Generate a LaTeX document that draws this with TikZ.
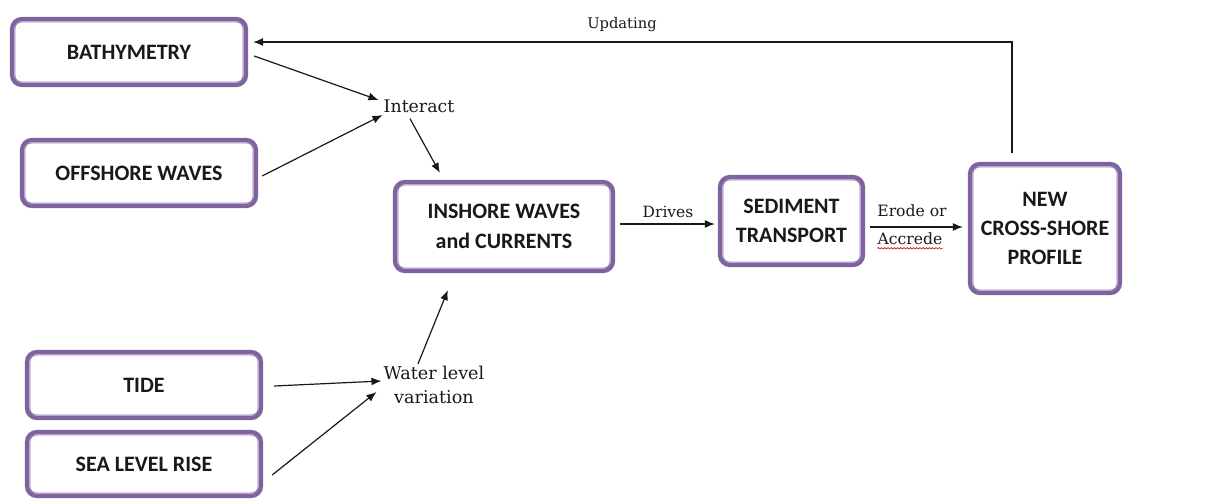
\documentclass[tikz,border=0pt]{standalone}
\usepackage{fontspec}
\setmainfont{DejaVu Serif}
\newfontfamily\boxfont{Carlito}
\usetikzlibrary{arrows.meta,calc,decorations.pathmorphing}
\definecolor{boxpurple}{HTML}{7F63A1}
\definecolor{boxinner}{HTML}{9A85B8}
\begin{document}
\begin{tikzpicture}[x=0.75pt,y=-0.75pt,
  box/.style={draw=boxpurple, line width=3.2pt, rounded corners=7.5pt, fill=white,
    align=center, inner sep=0pt, text=black!90,
    font=\boxfont\bfseries\fontsize{16.5}{22}\selectfont},
  innerline/.style={draw=boxinner, line width=0.8pt, rounded corners=5pt},
  arr/.style={-{Latex[length=7.5pt,width=6pt]}, line width=0.9pt, black!90},
  lbl/.style={inner sep=0pt, align=center, text=black!90}]
\useasboundingbox[fill=white] (0,0) rectangle (1223,500);

% input boxes
\node[box, minimum width=175.5pt, minimum height=49.5pt] (bathy) at (129,52) {BATHYMETRY};
\node[box, minimum width=175.5pt, minimum height=49.5pt] (offshore) at (139,173) {OFFSHORE WAVES};
\node[box, minimum width=175.5pt, minimum height=49.5pt] (tide) at (144,385) {TIDE};
\node[box, minimum width=175.5pt, minimum height=48pt] (slr) at (144,464) {SEA LEVEL RISE};

% process chain
\node[box, minimum width=163.5pt, minimum height=66.75pt] (inshore) at (504,226.5) {INSHORE WAVES\\and CURRENTS};
\node[box, minimum width=107.25pt, minimum height=66pt] (sed) at (791.5,221) {SEDIMENT\\TRANSPORT};
\node[box, minimum width=112.5pt, minimum height=96.75pt] (newcs) at (1045,228.5) {NEW\\CROSS-SHORE\\PROFILE};

% thin inner outline of every box
\foreach \n in {bathy,offshore,tide,slr,inshore,sed,newcs}
  \draw[innerline] ([shift={(5,-5)}]\n.south west) rectangle ([shift={(-5,5)}]\n.north east);

% intermediate labels
\node[lbl, font=\fontsize{13}{18}\selectfont] (interact) at (419,106) {Interact};
\node[lbl, font=\fontsize{13.2}{18}\selectfont] (wlv) at (434,385) {Water level\\variation};
\node[lbl, font=\fontsize{11.6}{16}\selectfont] (drives) at (668,212) {Drives};
\node[lbl, font=\fontsize{11.7}{16}\selectfont] (erode) at (912,211) {Erode or};
\node[lbl, font=\fontsize{11.7}{16}\selectfont] (accrede) at (910,239) {Accrede};
\node[lbl, font=\fontsize{11}{14}\selectfont] (updating) at (622,25) {Updating};

% spell-check underline under Accrede
\draw[red!80!black, line width=0.45pt, decorate,
  decoration={snake, amplitude=0.55pt, segment length=2.4pt}]
  ($(accrede.south west)+(0,3)$) -- ($(accrede.south east)+(0,3)$);

% connectors
\draw[arr] ($(bathy.east)+(6,4)$) -- ($(interact.west)+(-5,-6)$);
\draw[arr] ($(offshore.east)+(4,3)$) -- ($(interact.west)+(-1,9)$);
\draw[arr] ($(interact.south)+(-9,6)$) -- ($(inshore.north west)+(47,-7)$);
\draw[arr] ($(wlv.north)+(-16,-2)$) -- ($(inshore.south west)+(55,17)$);
\draw[arr] ($(tide.east)+(11,1)$) -- ($(wlv.west)+(-2,-4)$);
\draw[arr] ($(slr.east)+(9,11)$) -- ($(wlv.west)+(-7,7)$);
\draw[arr] ($(inshore.east)+(5,-2.5)$) -- ($(sed.west)+(-3,3)$);
\draw[arr] ($(sed.east)+(5,6)$) -- ($(newcs.west)+(-5,-1.5)$);

% feedback loop
\coordinate (upcorner) at (1012,42);
\draw[arr] ($(newcs.north)+(-33,-9)$) -- (upcorner) -- ($(bathy.east |- upcorner)+(5,0)$);
\end{tikzpicture}
\end{document}
